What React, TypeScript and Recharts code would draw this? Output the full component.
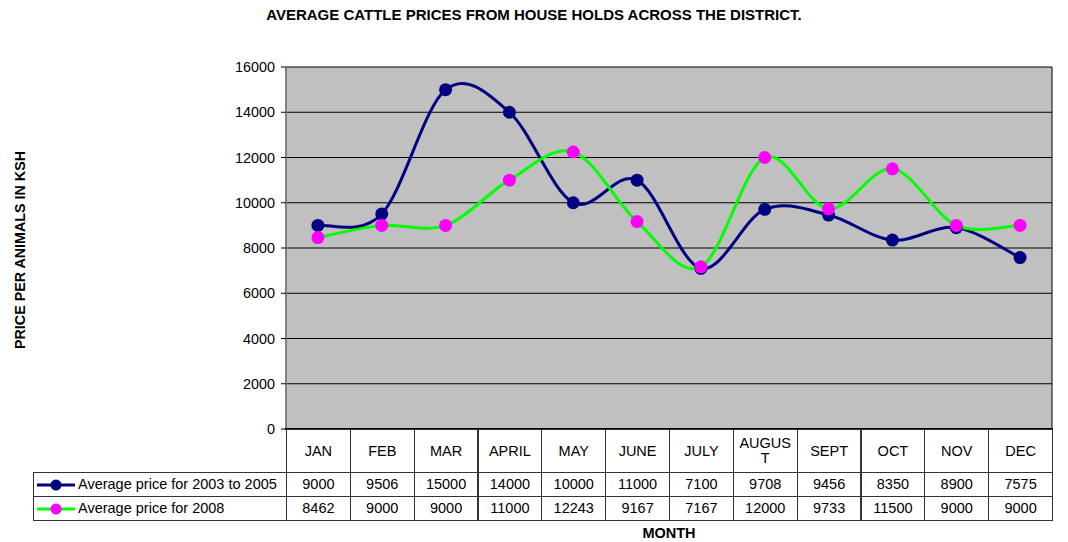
import { LineChart, Line, XAxis, YAxis, CartesianGrid } from "recharts";

const months = ["JAN", "FEB", "MAR", "APRIL", "MAY", "JUNE", "JULY", "AUGUST", "SEPT", "OCT", "NOV", "DEC"];
const headerLabels = ["JAN", "FEB", "MAR", "APRIL", "MAY", "JUNE", "JULY", "AUGUS T", "SEPT", "OCT", "NOV", "DEC"];
const price2003to2005 = [9000, 9506, 15000, 14000, 10000, 11000, 7100, 9708, 9456, 8350, 8900, 7575];
const price2008 = [8462, 9000, 9000, 11000, 12243, 9167, 7167, 12000, 9733, 11500, 9000, 9000];
const yTicks = [0, 2000, 4000, 6000, 8000, 10000, 12000, 14000, 16000];

const seriesNames = ["Average price for 2003 to 2005", "Average price for 2008"];

const data = months.map((m, i) => ({
    month: m,
    a: price2003to2005[i],
    b: price2008[i],
}));

// excel-ish smoothing: catmull-rom through every point
const smooth = (context: any) => {
    let pts: number[][] = [];
    return {
        areaStart() {},
        areaEnd() {},
        lineStart() {
            pts = [];
        },
        point(x: number, y: number) {
            pts.push([+x, +y]);
        },
        lineEnd() {
            if (!pts.length) return;
            context.moveTo(pts[0][0], pts[0][1]);
            for (let i = 0; i < pts.length - 1; i++) {
                const p0 = pts[i - 1] || pts[i];
                const p1 = pts[i];
                const p2 = pts[i + 1];
                const p3 = pts[i + 2] || p2;
                context.bezierCurveTo(
                    p1[0] + (p2[0] - p0[0]) / 6,
                    p1[1] + (p2[1] - p0[1]) / 6,
                    p2[0] - (p3[0] - p1[0]) / 6,
                    p2[1] - (p3[1] - p1[1]) / 6,
                    p2[0],
                    p2[1]
                );
            }
        },
    };
};

const FONT = "'Liberation Sans', Arial, sans-serif";
const PLOT_LEFT = 286;
const PLOT_RIGHT = 1052;
const COL_W = (PLOT_RIGHT - PLOT_LEFT) / months.length;

const cell: React.CSSProperties = {
    position: "absolute",
    boxSizing: "border-box",
    border: "1px solid #333",
    display: "flex",
    alignItems: "center",
    justifyContent: "center",
    textAlign: "center",
    fontSize: 14.5,
    lineHeight: "15px",
};

function LegendKey({ line, dot }: { line: string; dot: string }) {
    return (
        <svg width={40} height={14} style={{ marginRight: 2, flex: "none" }}>
            <line x1={1} y1={7} x2={39} y2={7} stroke={line} strokeWidth={3} />
            <circle cx={20} cy={7} r={5.5} fill={dot} />
        </svg>
    );
}

export default function App() {
    const rows = [
        { name: seriesNames[0], values: price2003to2005, line: "#000080", dot: "#000080" },
        { name: seriesNames[1], values: price2008, line: "#00ff00", dot: "#ff00ff" },
    ];
    return (
        <div style={{ position: "absolute", left: 0, top: 0, width: 1068, height: 542, background: "#fff", fontFamily: FONT }}>
            <div style={{ position: "absolute", left: 0, width: 1068, top: 6, textAlign: "center", fontSize: 15, fontWeight: "bold" }}>
                AVERAGE CATTLE PRICES FROM HOUSE HOLDS ACROSS THE DISTRICT.
            </div>
            <div
                style={{
                    position: "absolute",
                    left: 20,
                    top: 250,
                    transform: "translate(-50%, -50%) rotate(-90deg)",
                    whiteSpace: "nowrap",
                    fontSize: 14.3,
                    fontWeight: "bold",
                }}
            >
                PRICE PER ANIMALS IN KSH
            </div>

            <div style={{ position: "absolute", left: 0, top: 0 }}>
                <LineChart width={1068} height={542} data={data} margin={{ top: 67, right: 1068 - PLOT_RIGHT, bottom: 113, left: PLOT_LEFT - 60 }}>
                    <CartesianGrid
                        vertical={true}
                        verticalCoordinatesGenerator={() => [PLOT_RIGHT]}
                        horizontalValues={yTicks}
                        stroke="#000"
                        strokeWidth={1}
                        fill="#c0c0c0"
                        fillOpacity={1}
                    />
                    <XAxis dataKey="month" hide padding={{ left: COL_W / 2, right: COL_W / 2 }} />
                    <YAxis
                        width={60}
                        domain={[0, 16000]}
                        ticks={yTicks}
                        interval={0}
                        tick={{ fill: "#000", fontSize: 14.4, fontFamily: FONT }}
                        tickSize={5}
                        tickMargin={6}
                        axisLine={{ stroke: "#808080", strokeWidth: 2 }}
                        tickLine={{ stroke: "#000" }}
                    />
                    <Line
                        dataKey="a"
                        type={smooth as any}
                        stroke="#000080"
                        strokeWidth={3}
                        dot={{ r: 6.5, fill: "#000080", stroke: "#000080", strokeWidth: 0 }}
                        isAnimationActive={false}
                    />
                    <Line
                        dataKey="b"
                        type={smooth as any}
                        stroke="#00ff00"
                        strokeWidth={3}
                        dot={{ r: 6.5, fill: "#ff00ff", stroke: "#ff00ff", strokeWidth: 0 }}
                        isAnimationActive={false}
                    />
                </LineChart>
            </div>

            <div style={{ position: "absolute", left: PLOT_LEFT - 1, top: 428, width: PLOT_RIGHT - PLOT_LEFT + 2, height: 2, background: "#000" }} />

            {headerLabels.map((m, i) => (
                <div
                    key={m}
                    style={{ ...cell, left: PLOT_LEFT + i * COL_W, top: 429, width: COL_W + 1, height: 44, padding: "0 4px", wordBreak: "break-all" }}
                >
                    {m}
                </div>
            ))}
            {rows.map((r, ri) => (
                <div key={r.name}>
                    <div
                        style={{
                            ...cell,
                            left: 33,
                            top: 472 + ri * 24,
                            width: PLOT_LEFT - 33 + 1,
                            height: 25,
                            justifyContent: "flex-start",
                            paddingLeft: 2,
                            whiteSpace: "nowrap",
                        }}
                    >
                        <LegendKey line={r.line} dot={r.dot} />
                        {r.name}
                    </div>
                    {r.values.map((v, i) => (
                        <div key={i} style={{ ...cell, left: PLOT_LEFT + i * COL_W, top: 472 + ri * 24, width: COL_W + 1, height: 25 }}>
                            {v}
                        </div>
                    ))}
                </div>
            ))}

            <div style={{ position: "absolute", left: PLOT_LEFT, width: PLOT_RIGHT - PLOT_LEFT, top: 525, textAlign: "center", fontSize: 14.5, fontWeight: "bold" }}>
                MONTH
            </div>
        </div>
    );
}
